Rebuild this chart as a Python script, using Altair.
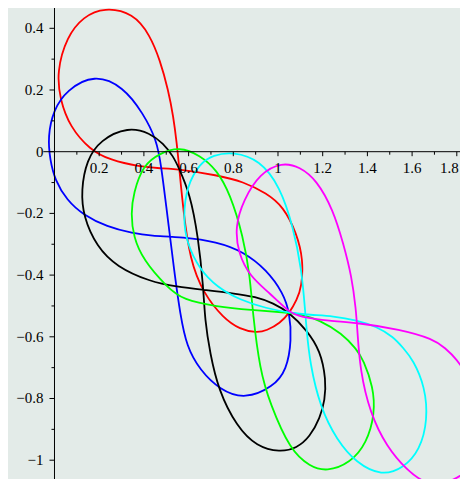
import altair as alt
import pandas as pd

# ---- data ----
curve_names = ["red", "blue", "black", "green", "cyan", "magenta"]
curve_colors = ["#ff0000", "#0000ff", "#000000", "#00ff00", "#00ffff", "#ff00ff"]

red_x = [0.223, 0.353, 0.427, 0.472, 0.509, 0.532, 0.547, 0.559, 0.576, 0.606,
         0.666, 0.755, 0.830, 0.905, 0.949, 1.009, 1.052, 1.084, 1.106, 1.113,
         1.084, 1.024, 0.949, 0.845, 0.726, 0.562, 0.472, 0.383, 0.248, 0.159,
         0.069, 0.025, 0.010, 0.055, 0.129]
red_y = [0.468, 0.449, 0.378, 0.297, 0.200, 0.113, 0.028, -0.059, -0.189, -0.351,
         -0.459, -0.539, -0.576, -0.587, -0.580, -0.556, -0.522, -0.481, -0.438, -0.351,
         -0.265, -0.178, -0.135, -0.097, -0.076, -0.057, -0.054, -0.049, -0.027, 0.006,
         0.081, 0.168, 0.259, 0.373, 0.438]

blue_x = [0.178, 0.308, 0.397, 0.457, 0.477, 0.502, 0.517, 0.539, 0.562, 0.591,
          0.651, 0.740, 0.852, 0.979, 1.039, 1.061, 1.052, 1.024, 0.949, 0.845,
          0.726, 0.576, 0.427, 0.353, 0.234, 0.129, 0.055, 0.002, -0.020, -0.030,
          -0.005, 0.055]
blue_y = [0.252, 0.211, 0.124, 0.038, -0.043, -0.189, -0.276, -0.405, -0.524, -0.632,
          -0.708, -0.772, -0.803, -0.762, -0.708, -0.610, -0.522, -0.459, -0.383, -0.324,
          -0.292, -0.277, -0.273, -0.265, -0.243, -0.205, -0.157, -0.092, -0.027, 0.049,
          0.135, 0.200]

black_x = [0.330, 0.427, 0.487, 0.532, 0.554, 0.606, 0.643, 0.666, 0.673, 0.696,
           0.733, 0.815, 0.905, 1.009, 1.084, 1.143, 1.188, 1.210, 1.215, 1.190,
           1.128, 1.052, 0.979, 0.900, 0.800, 0.666, 0.547, 0.427, 0.278, 0.189,
           0.129, 0.119, 0.144, 0.204]
black_y = [0.081, 0.060, 0.027, -0.016, -0.049, -0.135, -0.276, -0.438, -0.546, -0.653,
           -0.772, -0.891, -0.956, -0.974, -0.961, -0.924, -0.863, -0.805, -0.740, -0.645,
           -0.578, -0.522, -0.491, -0.470, -0.459, -0.448, -0.438, -0.421, -0.373, -0.308,
           -0.211, -0.124, -0.027, 0.038]

green_x = [0.558, 0.651, 0.726, 0.785, 0.845, 0.875, 0.887, 0.919, 0.964, 1.054,
           1.143, 1.218, 1.322, 1.397, 1.434, 1.426, 1.382, 1.352, 1.285, 1.188,
           1.098, 1.052, 0.875, 0.726, 0.576, 0.502, 0.397, 0.353, 0.342, 0.353,
           0.396, 0.472]
green_y = [0.016, -0.011, -0.059, -0.135, -0.276, -0.405, -0.524, -0.708, -0.816, -0.967,
           -1.021, -1.037, -1.010, -0.945, -0.848, -0.762, -0.675, -0.640, -0.589, -0.546,
           -0.526, -0.522, -0.513, -0.502, -0.481, -0.438, -0.351, -0.276, -0.200, -0.135,
           -0.043, -0.005]

cyan_x = [0.800, 0.919, 1.009, 1.068, 1.106, 1.121, 1.128, 1.143, 1.188, 1.263,
          1.352, 1.464, 1.561, 1.635, 1.670, 1.658, 1.605, 1.561, 1.516, 1.442,
          1.352, 1.247, 1.143, 1.052, 0.949, 0.830, 0.726, 0.651, 0.591, 0.576,
          0.591, 0.651, 0.709]
cyan_y = [0.000, -0.027, -0.113, -0.243, -0.383, -0.513, -0.578, -0.686, -0.827, -0.935,
          -1.010, -1.051, -1.026, -0.967, -0.870, -0.762, -0.675, -0.637, -0.600, -0.567,
          -0.546, -0.533, -0.529, -0.522, -0.508, -0.481, -0.438, -0.383, -0.297, -0.211,
          -0.113, -0.037, -0.011]

magenta_x = [1.017, 1.098, 1.173, 1.247, 1.292, 1.330, 1.349, 1.355, 1.367, 1.412,
             1.486, 1.576, 1.665, 1.755, 1.844, 1.904, 1.922, 1.895, 1.850, 1.800,
             1.747, 1.695, 1.546, 1.352, 1.233, 1.098, 1.052, 0.964, 0.875, 0.822,
             0.808, 0.845, 0.919]
magenta_y = [-0.034, -0.049, -0.092, -0.189, -0.297, -0.405, -0.513, -0.578, -0.708, -0.848,
             -0.956, -1.032, -1.080, -1.075, -1.042, -0.983, -0.886, -0.789, -0.729, -0.672,
             -0.636, -0.607, -0.576, -0.554, -0.549, -0.535, -0.522, -0.459, -0.405, -0.329,
             -0.243, -0.157, -0.070]

x_major = [0.2, 0.4, 0.6, 0.8, 1.0, 1.2, 1.4, 1.6, 1.8]
x_major_labels = ["0.2", "0.4", "0.6", "0.8", "1", "1.2", "1.4", "1.6", "1.8"]
x_minor = [0.1, 0.3, 0.5, 0.7, 0.9, 1.1, 1.3, 1.5, 1.7]
y_major = [0.4, 0.2, 0.0, -0.2, -0.4, -0.6, -0.8, -1.0]
y_major_labels = ["0.4", "0.2", "0", "\u22120.2", "\u22120.4", "\u22120.6", "\u22120.8", "\u22121"]
y_minor = [0.3, 0.1, -0.1, -0.3, -0.5, -0.7, -0.9]

# ---- tables ----
xs_all = [red_x, blue_x, black_x, green_x, cyan_x, magenta_x]
ys_all = [red_y, blue_y, black_y, green_y, cyan_y, magenta_y]
rows = []
for name, cx, cy in zip(curve_names, xs_all, ys_all):
    for i, (a, b) in enumerate(zip(cx, cy)):
        rows.append({"curve": name, "x": a, "y": b, "i": i})
curves_df = pd.DataFrame(rows)
xmaj_df = pd.DataFrame({"v": x_major, "t": x_major_labels})
xmin_df = pd.DataFrame({"v": x_minor})
ymaj_df = pd.DataFrame({"v": y_major, "t": y_major_labels})
ymin_df = pd.DataFrame({"v": y_minor})
xlab_inner = xmaj_df.iloc[:-1]
xlab_edge = xmaj_df.iloc[-1:]

# plot area fits inside the page (8px margins) so nothing is rescaled
W, H = 452, 471
xs = alt.Scale(domain=[-0.20805, 1.81432], nice=False, zero=False)
ys = alt.Scale(domain=[-1.06094, 0.46580], nice=False, zero=False)
FONT = "Liberation Serif"

lines = alt.Chart(curves_df).mark_line(
    interpolate="basis-closed", strokeWidth=1.8, clip=True
).encode(
    x=alt.X("x:Q", scale=xs, axis=None),
    y=alt.Y("y:Q", scale=ys, axis=None),
    color=alt.Color("curve:N", scale=alt.Scale(domain=curve_names, range=curve_colors), legend=None),
    detail="curve:N",
    order=alt.Order("i:Q"),
)

base = alt.Chart(pd.DataFrame({"a": [0]}))
x_axis_line = base.mark_rule(color="black", strokeWidth=1, clip=True).encode(
    x=alt.XDatum(-0.05, scale=xs, axis=None), x2=alt.X2Datum(1.95),
    y=alt.YDatum(0, scale=ys, axis=None),
)
y_axis_line = base.mark_rule(color="black", strokeWidth=1, clip=True).encode(
    x=alt.XDatum(0, scale=xs, axis=None),
    y=alt.YDatum(0.47, scale=ys, axis=None), y2=alt.Y2Datum(-1.2),
)

x_major_ticks = alt.Chart(xmaj_df).mark_rule(color="black", strokeWidth=1, y2Offset=4.5).encode(
    x=alt.X("v:Q", scale=xs, axis=None),
    y=alt.YDatum(0, scale=ys, axis=None), y2=alt.Y2Datum(0),
)
x_minor_ticks = alt.Chart(xmin_df).mark_rule(color="black", strokeWidth=1, y2Offset=3).encode(
    x=alt.X("v:Q", scale=xs, axis=None),
    y=alt.YDatum(0, scale=ys, axis=None), y2=alt.Y2Datum(0),
)
y_major_ticks = alt.Chart(ymaj_df).mark_rule(color="black", strokeWidth=1, x2Offset=-5).encode(
    y=alt.Y("v:Q", scale=ys, axis=None),
    x=alt.XDatum(0, scale=xs, axis=None), x2=alt.X2Datum(0),
)
y_minor_ticks = alt.Chart(ymin_df).mark_rule(color="black", strokeWidth=1, x2Offset=-3).encode(
    y=alt.Y("v:Q", scale=ys, axis=None),
    x=alt.XDatum(0, scale=xs, axis=None), x2=alt.X2Datum(0),
)

x_labels = alt.Chart(xlab_inner).mark_text(
    font=FONT, fontSize=15, color="black", align="center", baseline="alphabetic", dy=21
).encode(
    x=alt.X("v:Q", scale=xs, axis=None),
    y=alt.YDatum(0, scale=ys, axis=None),
    text="t:N",
)
# last label kept inside the drawing's right edge
x_label_edge = alt.Chart(xlab_edge).mark_text(
    font=FONT, fontSize=15, color="black", align="right", baseline="alphabetic", dy=21, dx=2
).encode(
    x=alt.X("v:Q", scale=xs, axis=None),
    y=alt.YDatum(0, scale=ys, axis=None),
    text="t:N",
)
y_labels = alt.Chart(ymaj_df).mark_text(
    font=FONT, fontSize=15, color="black", align="right", baseline="middle", dx=-11
).encode(
    y=alt.Y("v:Q", scale=ys, axis=None),
    x=alt.XDatum(0, scale=xs, axis=None),
    text="t:N",
)

chart = alt.layer(
    lines, x_axis_line, y_axis_line, x_major_ticks, x_minor_ticks,
    y_major_ticks, y_minor_ticks, x_labels, x_label_edge, y_labels,
).properties(
    width=W, height=H,
    autosize=alt.AutoSizeParams(type="none"),
    padding=0,
    background="#e3ebe8",
).configure_view(stroke=None)

chart.save("out.html", embed_options={"renderer": "svg", "actions": False})
